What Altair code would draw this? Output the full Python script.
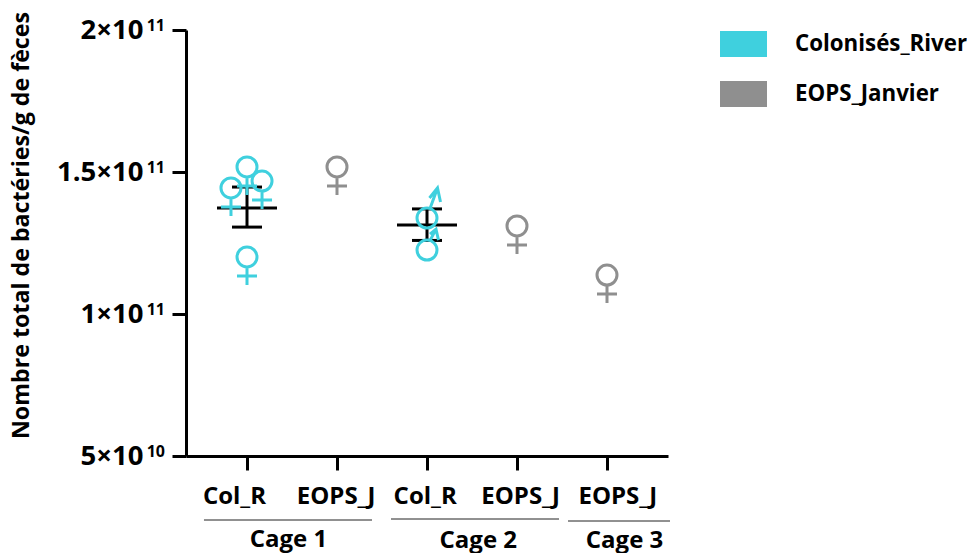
import altair as alt
import pandas as pd

PLOT_W, PLOT_H = 482, 426

tick_pos = [1, 2, 3, 4, 5]
y_ticks = [5e10, 1e11, 1.5e11, 2e11]
y_exponents = ["10", "11", "11", "11"]

# individual animals
female_x = [1.0, 1.167, 0.822, 1.0, 2.0, 4.0, 5.0]
female_y = [1.518e11, 1.468e11, 1.444e11, 1.201e11, 1.518e11, 1.310e11, 1.137e11]
female_s = ["Colonisés_River"] * 4 + ["EOPS_Janvier"] * 3

male_hi_x = [3.0]
male_hi_y = [1.338e11]
male_lo_x = [3.0]
male_lo_y = [1.225e11]

# mean +/- error
mean_x = [1, 3]
mean_y = [1.373e11, 1.313e11]
err_lo = [1.306e11, 1.259e11]
err_hi = [1.447e11, 1.370e11]

# tick labels
label_text = ["Col_R", "EOPS_J", "Col_R", "EOPS_J", "EOPS_J"]
label_x = [0.861, 1.99, 2.98, 4.04, 5.12]
cage_text = ["Cage 1", "Cage 2", "Cage 3"]
cage_x = [1.46, 3.57, 5.195]
cage_py = [510, 511, 511]
line_x1 = [0.522, 2.60, 4.567]
line_x2 = [2.389, 4.467, 5.70]
line_py = [490, 489, 491]

CIRCLE = ("M1,0 C1,0.552 0.552,1 0,1 C-0.552,1 -1,0.552 -1,0 C-1,-0.552 -0.552,-1 0,-1 "
          "C0.552,-1 1,-0.552 1,0 Z ")
FEMALE = CIRCLE + "M0,1 L0,2.8 M-1,1.9 L1,1.9"
MALE_LONG = CIRCLE + "M0.3,-0.95 L1.05,-3.0 M0.25,-2.0 L1.05,-3.0 L1.35,-1.6"
MALE_SHORT = CIRCLE + "M0.3,-0.95 L0.9,-2.1 M0.3,-1.6 L0.9,-2.1 L1.15,-1.0"
SWATCH = "M-1,-0.553 L1,-0.553 L1,0.553 L-1,0.553 Z"

colors = ["#3FD0DE", "#8F8F8F"]
series = ["Colonisés_River", "EOPS_Janvier"]
FONT = "Open Sans"
TXT = 24

x_scale = alt.Scale(domain=[1 - 61 / 90, 1 - 61 / 90 + PLOT_W / 90], nice=False, zero=False)
y_scale = alt.Scale(domain=[5e10, 2e11], nice=False, zero=False)
color_scale = alt.Scale(domain=series, range=colors)

fem = pd.DataFrame({"x": female_x, "y": female_y, "s": female_s})
stats = pd.DataFrame({"x": mean_x, "m": mean_y, "lo": err_lo, "hi": err_hi})
labs = pd.DataFrame({"x": label_x, "t": label_text})
exps = pd.DataFrame({"y": y_ticks, "t": y_exponents})

label_expr = ("datum.value == 5e10 ? '5×10' : datum.value == 1e11 ? '1×10' : "
              "datum.value == 1.5e11 ? '1.5×10' : '2×10'")

x_axis = alt.Axis(
    values=tick_pos, labels=False, title=None, grid=False, tickSize=14, tickWidth=3,
    tickColor="black", domainColor="black", domainWidth=3)
y_axis = alt.Axis(
    values=y_ticks, labelExpr=label_expr, title="Nombre total de bactéries/g de fèces",
    grid=False, tickSize=14, tickWidth=3, tickColor="black", domainColor="black", domainWidth=3,
    labelFont=FONT, labelFontWeight="bold", labelFontSize=27.5, labelColor="black", labelPadding=29,
    titleFont=FONT, titleFontWeight="bold", titleFontSize=23.2, titleColor="black",
    titleX=-153, titleY=195, titleAnchor="middle", titleAlign="center", titleLimit=600)
legend = alt.Legend(
    orient="none", legendX=534, legendY=-9.5, symbolType=SWATCH, symbolSize=2209, title=None,
    symbolStrokeWidth=0, symbolOpacity=1, rowPadding=13, labelOffset=28, labelFont=FONT,
    labelFontWeight="bold", labelFontSize=22.3, labelColor="black", labelLimit=300, padding=0)

X = alt.X("x:Q", scale=x_scale, axis=x_axis, title=None)
def Y(field):
    return alt.Y(field, scale=y_scale, axis=y_axis)


def symbol(path, df):
    return alt.Chart(df).mark_point(shape=path, filled=False, size=400, strokeWidth=3, opacity=1).encode(
        x=X, y=Y("y:Q"), stroke=alt.Stroke("s:N", scale=color_scale, legend=None))


legend_layer = alt.Chart(pd.DataFrame({"s": series})).mark_point(filled=True, size=0, opacity=1).encode(
    fill=alt.Fill("s:N", scale=color_scale, legend=legend))
female_layer = symbol(FEMALE, fem)
male_hi = symbol(MALE_LONG, pd.DataFrame({"x": male_hi_x, "y": male_hi_y, "s": ["Colonisés_River"]}))
male_lo = symbol(MALE_SHORT, pd.DataFrame({"x": male_lo_x, "y": male_lo_y, "s": ["Colonisés_River"]}))

def hbar(field, size):
    return alt.Chart(stats).mark_tick(color="black", thickness=3, size=size, orient="horizontal", opacity=1).encode(
        x=X, y=Y(field))


stem = alt.Chart(stats).mark_rule(color="black", strokeWidth=3, opacity=1).encode(x=X, y=Y("lo:Q"), y2="hi:Q")

text_labels = alt.Chart(labs).mark_text(font=FONT, fontWeight="bold", fontSize=TXT, color="black", baseline="middle").encode(
    x=X, y=alt.value(41 + PLOT_H), text="t:N")

exp_labels = alt.Chart(exps).mark_text(font=FONT, fontWeight="bold", fontSize=16, color="black",
                                       align="right", baseline="alphabetic", dy=1).encode(
    x=alt.value(-21), y=Y("y:Q"), text="t:N")

cage_labels = [
    alt.Chart(pd.DataFrame({"x": [cx], "t": [ct]})).mark_text(
        font=FONT, fontWeight="bold", fontSize=TXT, color="black", baseline="middle"
    ).encode(x=X, y=alt.value(py), text="t:N")
    for cx, ct, py in zip(cage_x, cage_text, cage_py)
]
cage_lines = [
    alt.Chart(pd.DataFrame({"x": [a], "x2": [b]})).mark_rule(color="#222222", strokeWidth=1).encode(
        x=X, x2="x2:Q", y=alt.value(py))
    for a, b, py in zip(line_x1, line_x2, line_py)
]

chart = alt.layer(
    stem, hbar("lo:Q", 30), hbar("hi:Q", 30), hbar("m:Q", 60),
    legend_layer, female_layer, male_hi, male_lo,
    exp_labels, text_labels, *cage_labels, *cage_lines
).properties(
    width=PLOT_W, height=PLOT_H,
    autosize=alt.AutoSizeParams(type="none"),
    padding={"left": 178, "top": 22, "right": 299, "bottom": 97},
).configure_view(stroke=None)

chart.save("out.html", embed_options={"renderer": "svg", "actions": False})
